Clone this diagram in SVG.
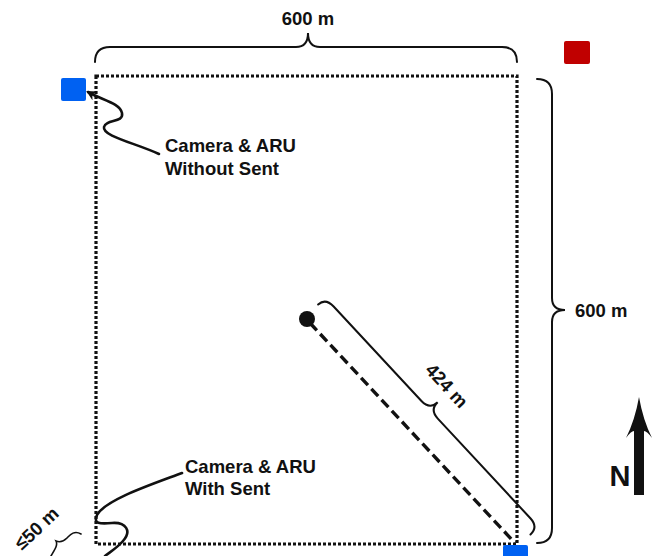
<svg xmlns="http://www.w3.org/2000/svg" width="659" height="556" viewBox="0 0 659 556">
<style>
.lbl{font-family:"Liberation Sans",Arial,sans-serif;font-weight:bold;font-size:18.5px;fill:#111}
.big{font-size:29px}
.brace{fill:none;stroke:#111;stroke-width:2;stroke-linecap:round}
.conn{fill:none;stroke:#111;stroke-width:2.6;stroke-linecap:round}
.blue{fill:#0061F2}
</style>
<defs>
<marker id="ah" markerWidth="10" markerHeight="10" refX="8" refY="5" orient="auto" markerUnits="userSpaceOnUse" viewBox="0 0 10 10">
<path d="M0,0 L10,5 L0,10 L3,5 Z" fill="#111"/>
</marker>
</defs>
<rect width="659" height="556" fill="#fff"/>

<g id="plot">
<rect x="96" y="76" width="421" height="468" fill="none" stroke="#111" stroke-width="3.2" stroke-dasharray="3,2"/>
</g>

<g id="brace-top">
<path class="brace" d="M95,62 Q95,47 110,47 L296,47 Q308,47 308,33 Q308,47 320,47 L502,47 Q517,47 517,62"/>
<text class="lbl" x="308" y="25" text-anchor="middle">600 m</text>
</g>

<g id="brace-right">
<path class="brace" d="M537,79 Q552,79 552,94 L552,298 Q552,310 565,310 Q552,310 552,322 L552,528 Q552,543 537,543"/>
<text class="lbl" x="575" y="317">600 m</text>
</g>

<g id="red-site">
<rect x="564" y="41" width="26" height="23" rx="2" fill="#C00000"/>
</g>

<g id="cam-without-sent">
<rect class="blue" x="61" y="78" width="25" height="23" rx="2"/>
<text class="lbl" x="165" y="152">Camera &amp; ARU</text>
<text class="lbl" x="165" y="175">Without Sent</text>
</g>

<g id="cam-with-sent">
<rect class="blue" x="503" y="545" width="25" height="23" rx="2"/>
<text class="lbl" x="185" y="473">Camera &amp; ARU</text>
<text class="lbl" x="185" y="495">With Sent</text>
</g>

<g id="center-point">
<circle cx="307" cy="319" r="8" fill="#111"/>
</g>

<g id="brace-diag" transform="translate(307,319) rotate(47.1)">
<path class="brace" d="M-3,-18 Q-3,-28 9,-28 L138,-28 Q150,-28 150,-39 Q150,-28 162,-28 L298,-28 Q310,-28 310,-17"/>
</g>
<text class="lbl" transform="translate(442,390) rotate(47.1)" text-anchor="middle">424 m</text>

<g id="brace-50">
<path fill="none" stroke="#111" stroke-width="1.6" stroke-linecap="round" d="M81,534 C74,530 70,535 67,538 C64,541 61,543 56,541 C58,545 55,549 51,556"/>
<text class="lbl" transform="translate(41,533) rotate(-43)" text-anchor="middle">≤50 m</text>
</g>

<g id="north-arrow">
<path fill="#111" d="M639,397 Q643,420 652,438 Q647,431 644,431 L644,495 L634,495 L634,431 Q631,431 626,438 Q635,420 639,397 Z"/>
<text class="lbl big" x="620" y="486" text-anchor="middle">N</text>
</g>

<g id="connectors">
<path d="M310,323 L515,543" fill="none" stroke="#111" stroke-width="3.4" stroke-dasharray="10,5"/>
<path class="conn" marker-end="url(#ah)" d="M159,154 C135,143 102,136 104,127 C106,119 124,123 122,113 C120,103 102,100 88,92"/>
<path class="conn" d="M182,473 C150,485 105,500 97,515 C93,524 100,524 112,523 C126,522 132,531 123,541 C117,548 110,552 105,556"/>
</g>
</svg>
